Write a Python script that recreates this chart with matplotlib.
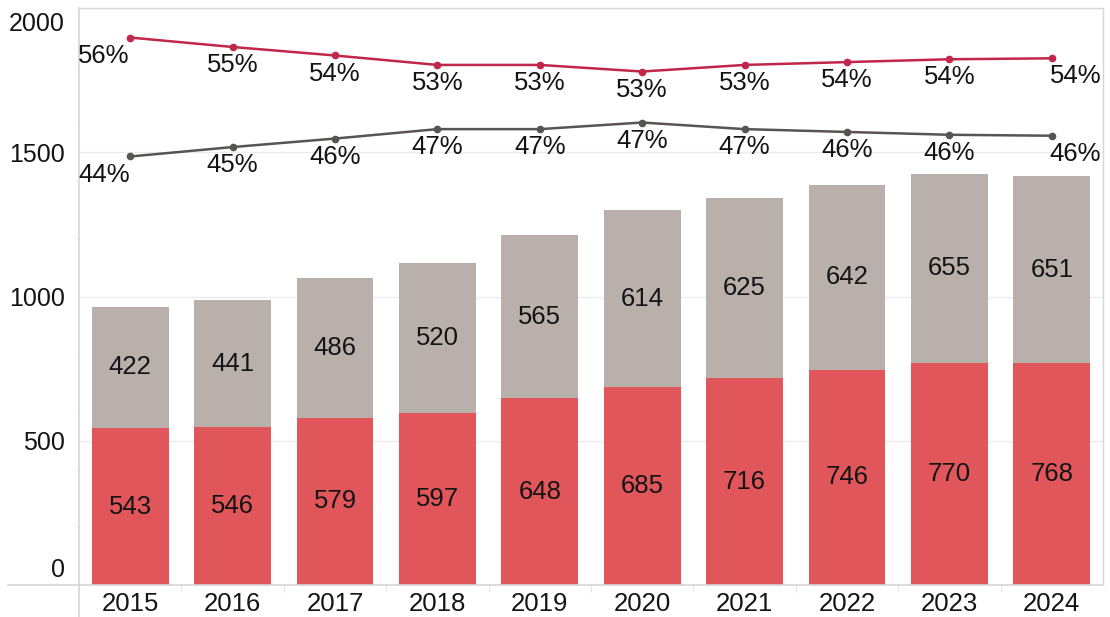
import matplotlib
matplotlib.use("Agg")
import matplotlib.pyplot as plt
from matplotlib.transforms import ScaledTranslation
import numpy as np

plt.rcParams['font.family'] = ['Liberation Sans', 'DejaVu Sans']

years = ['2015', '2016', '2017', '2018', '2019', '2020', '2021', '2022', '2023', '2024']
red_vals = [543, 546, 579, 597, 648, 685, 716, 746, 770, 768]
gray_vals = [422, 441, 486, 520, 565, 614, 625, 642, 655, 651]
red_pct = [56.3, 55.3, 54.4, 53.4, 53.4, 52.7, 53.4, 53.7, 54.0, 54.1]
gray_pct = [43.7, 44.7, 45.6, 46.6, 46.6, 47.3, 46.6, 46.3, 46.0, 45.9]
red_pct_labels = ['56%', '55%', '54%', '53%', '53%', '53%', '53%', '54%', '54%', '54%']
gray_pct_labels = ['44%', '45%', '46%', '47%', '47%', '47%', '47%', '46%', '46%', '46%']
yticks = [0, 500, 1000, 1500, 2000]

RED_BAR = '#E0565A'
GRAY_BAR = '#B9AFAB'
RED_LINE = '#C1264B'
GRAY_LINE = '#595454'
TXT = '#141414'
GRID = '#ebebeb'
FRAME = '#d6d6d6'

W, H = 1110, 617
fig = plt.figure(figsize=(W / 100, H / 100), dpi=100)
ax = fig.add_axes([79 / W, (H - 585) / H, (1103 - 79) / W, (585 - 8) / H])

x = np.arange(len(years))
ax.bar(x, red_vals, width=0.75, color=RED_BAR, zorder=2)
ax.bar(x, gray_vals, bottom=red_vals, width=0.75, color=GRAY_BAR, zorder=2)

for i in range(len(years)):
    ax.text(x[i], red_vals[i] / 2, str(red_vals[i]), ha='center', va='center',
            fontsize=18.5, color=TXT, zorder=3)
    ax.text(x[i], red_vals[i] + gray_vals[i] / 2, str(gray_vals[i]), ha='center',
            va='center', fontsize=18.5, color=TXT, zorder=3)

ax.set_xlim(-0.5, len(years) - 0.5)
ax.set_ylim(0, 2000)
ax.set_yticks(yticks)
ax.set_yticklabels([str(v) for v in yticks])
ax.set_yticks(np.arange(200, 2000, 200), minor=True)
ax.set_xticks(x)
ax.set_xticklabels(years)
ax.set_xticks(np.arange(0.5, len(years) - 1, 1), minor=True)
ax.tick_params(axis='y', which='major', length=0, pad=10, labelsize=18, labelcolor=TXT)
ax.tick_params(axis='y', which='minor', length=3, color='#eeeeee', width=0.8)
ax.tick_params(axis='x', which='major', length=0, pad=5, labelsize=18.5, labelcolor=TXT)
ax.tick_params(axis='x', which='minor', length=5, color='#e6e6e6', width=0.8)
ax.yaxis.grid(True, which='major', color=GRID, linewidth=1, zorder=0)
ax.set_axisbelow(True)

# end labels kept inside the plot area
ticks = ax.yaxis.get_major_ticks()
ticks[0].label1.set_va('bottom')
ticks[0].label1.set_transform(ticks[0].label1.get_transform() +
                              ScaledTranslation(0, 2 / 72, fig.dpi_scale_trans))
ticks[-1].label1.set_va('top')
ticks[-1].label1.set_transform(ticks[-1].label1.get_transform() +
                               ScaledTranslation(0, -3 / 72, fig.dpi_scale_trans))

for s in ['top', 'right']:
    ax.spines[s].set_color(FRAME)
    ax.spines[s].set_linewidth(1)
ax.spines['left'].set_color(FRAME)
ax.spines['bottom'].set_color(FRAME)
ax.spines['left'].set_linewidth(1.2)
ax.spines['bottom'].set_linewidth(1.2)

# spine extensions beyond the plot area
ax.plot([0, 0], [0, -32 / 577], transform=ax.transAxes, color=FRAME, lw=1.2, clip_on=False)
ax.plot([-71 / 1024, 0], [0, 0], transform=ax.transAxes, color=FRAME, lw=1.2, clip_on=False)

ax2 = ax.twinx()
ax2.set_ylim(-1.69, 59.43)
ax2.axis('off')
ax2.plot(x, red_pct, color=RED_LINE, lw=1.8, marker='o', markersize=4.5, zorder=4)
ax2.plot(x, gray_pct, color=GRAY_LINE, lw=1.8, marker='o', markersize=4.5, zorder=4)

n = len(years)
for i in range(n):
    dx = -19 if i == 0 else (17 if i == n - 1 else 0)
    ax2.annotate(red_pct_labels[i], (x[i], red_pct[i]), xytext=(dx, -13),
                 textcoords='offset points', ha='center', va='center',
                 fontsize=18.5, color=TXT)
    ax2.annotate(gray_pct_labels[i], (x[i], gray_pct[i]), xytext=(dx, -13),
                 textcoords='offset points', ha='center', va='center',
                 fontsize=18.5, color=TXT)

fig.savefig('out.png', dpi=100)
